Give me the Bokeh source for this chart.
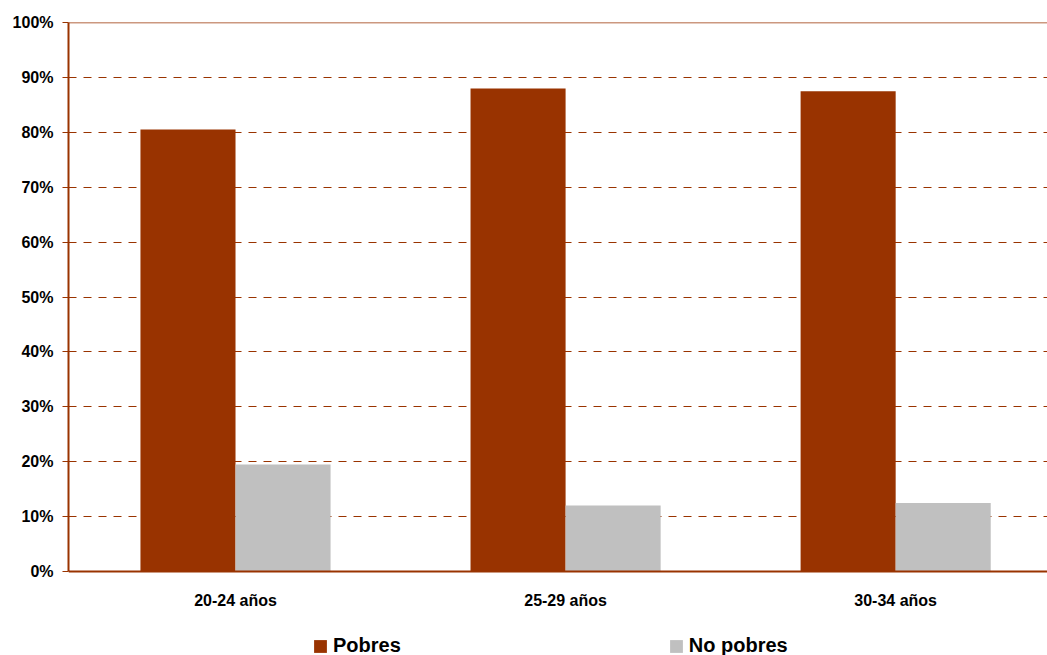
from bokeh.plotting import figure
from bokeh.models import (Range1d, FixedTicker, PrintfTickFormatter, Span,
                          Legend, LegendItem, LabelSet, ColumnDataSource)
from bokeh.core.properties import value
from bokeh.embed import file_html
from bokeh.resources import INLINE

# Share of each age group, by poverty status (%)
categories = ["20-24 años", "25-29 años", "30-34 años"]
pobres = [80.5, 88.0, 87.5]
no_pobres = [19.5, 12.0, 12.5]
series_names = ["Pobres", "No pobres"]
y_ticks = [0, 10, 20, 30, 40, 50, 60, 70, 80, 90, 100]

RED = "#993300"
GRAY = "#C0C0C0"
FONT = "Liberation Sans"

centers = [i + 0.5 for i in range(len(categories))]
bar_w = 0.288
off = bar_w / 2

# the frame runs to the bottom edge so the legend can sit under the bars;
# the value axis itself is bounded to 0-100
px_per_unit = 5.49
y_start = 100 - 633 / px_per_unit

p = figure(width=1047, height=655, output_backend="svg", toolbar_location=None,
           x_range=Range1d(-0.006, 2.96), y_range=Range1d(y_start, 100),
           min_border_left=68, min_border_right=0, min_border_top=22,
           min_border_bottom=0)
p.outline_line_color = None
p.background_fill_color = "white"
p.border_fill_color = "white"
p.xaxis.visible = False

r1 = p.vbar(x=[c - off for c in centers], top=pobres, width=bar_w,
            fill_color=RED, line_color=None)
r2 = p.vbar(x=[c + off for c in centers], top=no_pobres, width=bar_w,
            fill_color=GRAY, line_color=None)

# dashed horizontal grid
p.xgrid.grid_line_color = None
p.ygrid.ticker = FixedTicker(ticks=y_ticks[1:-1])
p.ygrid.grid_line_color = RED
p.ygrid.grid_line_dash = "8 7"
p.ygrid.grid_line_width = 1
p.ygrid.level = "underlay"

# solid top border and category baseline
p.add_layout(Span(location=100, dimension="width", line_color=RED,
                  line_width=1.5))
p.add_layout(Span(location=0, dimension="width", line_color=RED,
                  line_width=2))

# y axis
p.yaxis.bounds = (0, 100)
p.yaxis.ticker = FixedTicker(ticks=y_ticks)
p.yaxis.formatter = PrintfTickFormatter(format="%d%%")
p.yaxis.axis_line_color = RED
p.yaxis.axis_line_width = 2
p.yaxis.major_tick_line_color = RED
p.yaxis.major_tick_out = 6
p.yaxis.major_tick_in = 0
p.yaxis.minor_tick_line_color = None
p.yaxis.major_label_standoff = 9
p.yaxis.major_label_text_font = FONT
p.yaxis.major_label_text_font_style = "bold"
p.yaxis.major_label_text_font_size = "16px"
p.yaxis.major_label_text_color = "black"

# category labels under the baseline
cat_src = ColumnDataSource(dict(x=centers, y=[0] * len(categories),
                                text=categories))
p.add_layout(LabelSet(x="x", y="y", text="text", source=cat_src,
                      y_offset=-29, text_align="center",
                      text_baseline="middle", text_font=value(FONT),
                      text_font_style="bold", text_font_size="16px",
                      text_color="black"))

legend = Legend(items=[LegendItem(label=series_names[0], renderers=[r1]),
                       LegendItem(label=series_names[1], renderers=[r2])],
                orientation="horizontal", location=(244, -2),
                spacing=267, padding=0, margin=0, border_line_color=None,
                background_fill_alpha=0, glyph_width=16, glyph_height=16,
                label_standoff=5, label_text_font=FONT,
                label_text_font_style="bold", label_text_font_size="20px",
                label_text_color="black")
p.add_layout(legend, "center")

open("out.html", "w").write(file_html(p, INLINE))
